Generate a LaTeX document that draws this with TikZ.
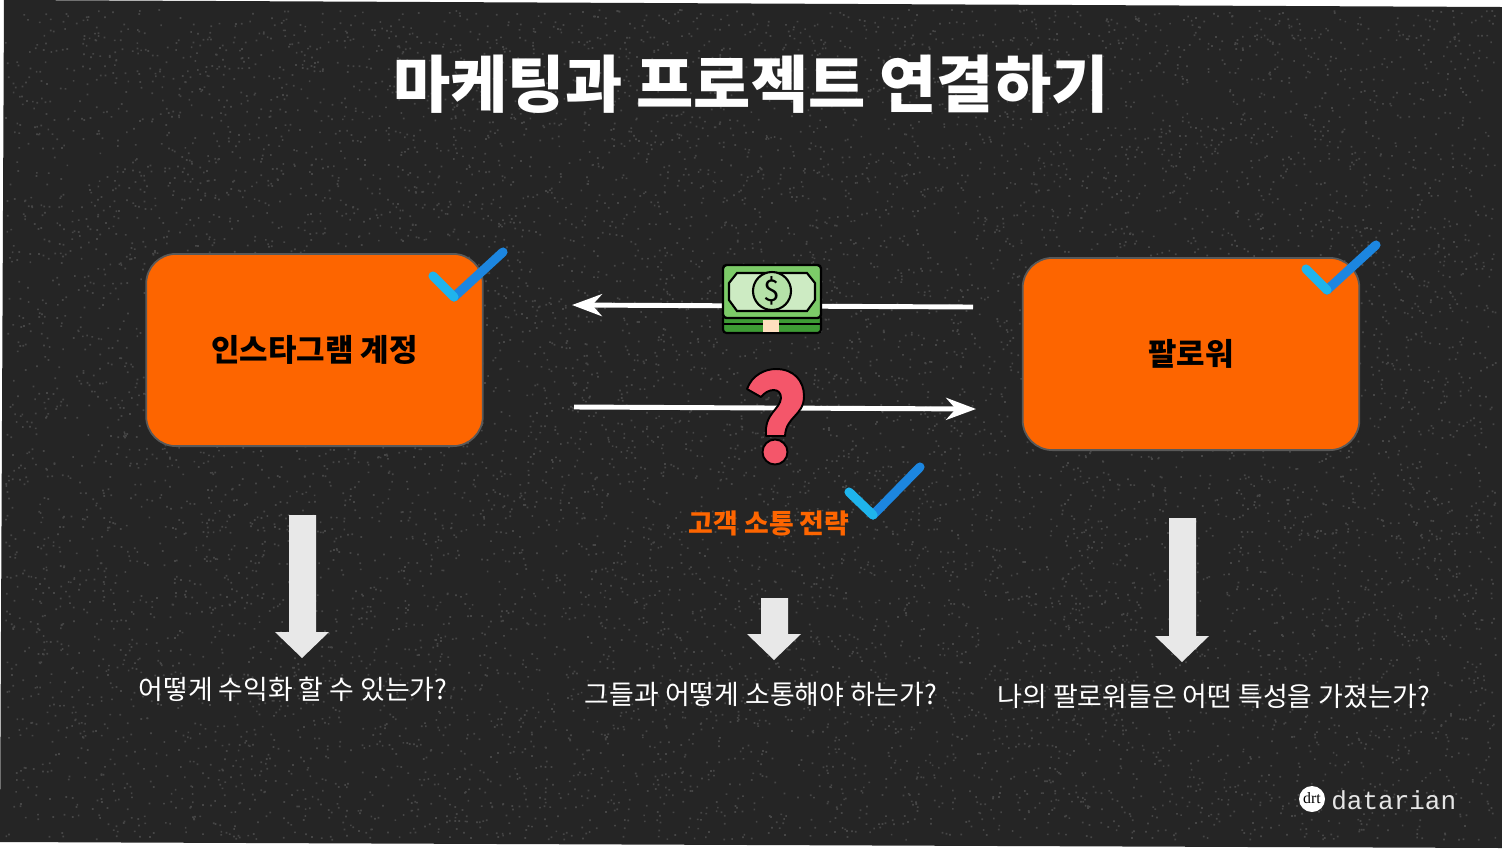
\documentclass[tikz,border=0pt]{standalone}
\usepackage{fontspec}
\setmainfont{Noto Sans CJK KR}
\newfontfamily\brandfont{Liberation Mono}
\newfontfamily\logofont{Liberation Serif}
\usetikzlibrary{arrows.meta}
\definecolor{boardgray}{HTML}{252525}
\definecolor{speckgray}{HTML}{464646}
\definecolor{boxorange}{HTML}{FD6500}
\definecolor{arrowgray}{HTML}{E8E8E8}
\definecolor{checkblue}{HTML}{1C86E0}
\definecolor{checkcyan}{HTML}{1FB4EC}
\definecolor{billgreen}{HTML}{7CCB68}
\definecolor{billpale}{HTML}{CDEBC3}
\definecolor{billdark}{HTML}{3E9B35}
\definecolor{askred}{HTML}{F4566A}
\tikzset{
    infobox/.style={draw=gray!70!black, line width=1pt, fill=boxorange, rounded corners=17pt,
        minimum width=338*0.5669pt, minimum height=193*0.5669pt, font=\fontsize{17.6}{20}\selectfont\bfseries, text=black},
    askline/.style={draw=white, line width=2.8pt, -{Stealth[length=17pt,width=12.5pt,inset=5.5pt]}},
    downarrow/.style={fill=arrowgray, draw=none},
    asktext/.style={text=white, font=\fontsize{15.3}{17}\selectfont},
    checkmark/.style={draw=checkblue, line width=5.2pt, line cap=round, line join=round},
    checkshort/.style={draw=checkcyan, line width=5.2pt, line cap=round},
}
\begin{document}
\begin{tikzpicture}[x=0.02cm, y=-0.02cm]
    \useasboundingbox (0,0) rectangle (1502,850);
    % Board
    \fill [white] (0,0) rectangle (1502,850);
    \fill [boardgray] (4,0) -- (1502,7) -- (1502,848) -- (0,842) -- cycle;
    \pgfmathsetseed{7}
    \foreach \k in {1,...,110} {
        \fill [speckgray] foreach \i in {1,...,100} {
            (5+rnd*1490,9+rnd*830) rectangle ++(1.7,1.7)
        };
    }

    % Title
    \node [text=white, font=\fontsize{35.4}{40}\selectfont\bfseries] (title) at (751,84) {마케팅과 프로젝트 연결하기};

    % Boxes
    \node [infobox] (account) at (314.5,350) {인스타그램 계정};
    \node [infobox] (follower) at (1191,354) {팔로워};

    % Arrows between boxes
    \coordinate (payr) at (973,307);
    \coordinate (payl) at (572,305);
    \coordinate (askl) at (574,407);
    \coordinate (askr) at (976,409);
    \draw [askline] (payr) -- (payl);
    \draw [askline] (askl) -- (askr);

    % Money
    \fill [billdark, draw=black, line width=1.2pt, rounded corners=2pt] (723,315) rectangle (821,333);
    \fill [black] (723,323) rectangle (821,325);
    \fill [billgreen, draw=black, line width=1.4pt, rounded corners=2pt] (723,265) rectangle (821,318);
    \draw [fill=billpale, draw=black, line width=1.2pt] (737,273) -- (807,273) -- (815,283) -- (815,300) -- (807,311) -- (737,311) -- (729,300) -- (729,283) -- cycle;
    \draw [fill=billpale!70!billgreen, draw=black, line width=1.2pt] (772,291) circle (19);
    \node [text=black, font=\fontsize{17}{18}\selectfont] (dollar) at (772,291) {\$};
    \fill [orange!25] (763,320) rectangle (779,332);

    % Question mark
    \draw [fill=askred, draw=black, line width=1.1pt, line join=round]
        (747,389) .. controls (752,375) and (765,369) .. (776,369)
        .. controls (794,369) and (804,381) .. (804,396)
        .. controls (804,416) and (786,416) .. (785,436) -- (766,436)
        .. controls (764,413) and (780,410) .. (781,398)
        .. controls (781,387) and (768,388) .. (761,397) -- cycle;
    \draw [fill=askred, draw=black, line width=1.1pt] (775,452) circle (12.5);

    % Center label
    \node [text=boxorange, font=\fontsize{15.3}{17}\selectfont\bfseries] (strategy) at (769,523) {고객 소통 전략};

    % Checks
    \draw [checkmark] (454,297) -- (503,252);
    \draw [checkshort] (433,276) -- (454,297);
    \draw [checkmark] (1327,290) -- (1376,245);
    \draw [checkshort] (1306,269) -- (1327,290);
    \draw [checkmark] (873,515) -- (920,467);
    \draw [checkshort] (849,492) -- (873,515);

    % Down arrows
    \fill [downarrow] (289,515) -- (316,515) -- (316,632) -- (329,632) -- (302,658) -- (275,632) -- (289,632) -- cycle;
    \fill [downarrow] (761,598) -- (788,598) -- (788,634) -- (801,634) -- (774,660) -- (747,634) -- (761,634) -- cycle;
    \fill [downarrow] (1169,518) -- (1196,518) -- (1196,636) -- (1209,636) -- (1182,662) -- (1155,636) -- (1169,636) -- cycle;

    % Questions
    \node [asktext] (qmoney) at (293,689) {어떻게 수익화 할 수 있는가?};
    \node [asktext] (qtalk) at (761,694) {그들과 어떻게 소통해야 하는가?};
    \node [asktext] (qtrait) at (1214,696) {나의 팔로워들은 어떤 특성을 가졌는가?};

    % Brand
    \fill [white] (1312,799) circle (13);
    \node [text=black, font=\logofont\fontsize{9}{9}\selectfont, inner sep=0pt] (logo) at (1312,798) {drt};
    \node [text=white!90!black, font=\brandfont\fontsize{14.8}{16}\selectfont, anchor=west, inner sep=0pt] (brand) at (1331,800) {datarian};
\end{tikzpicture}
\end{document}
